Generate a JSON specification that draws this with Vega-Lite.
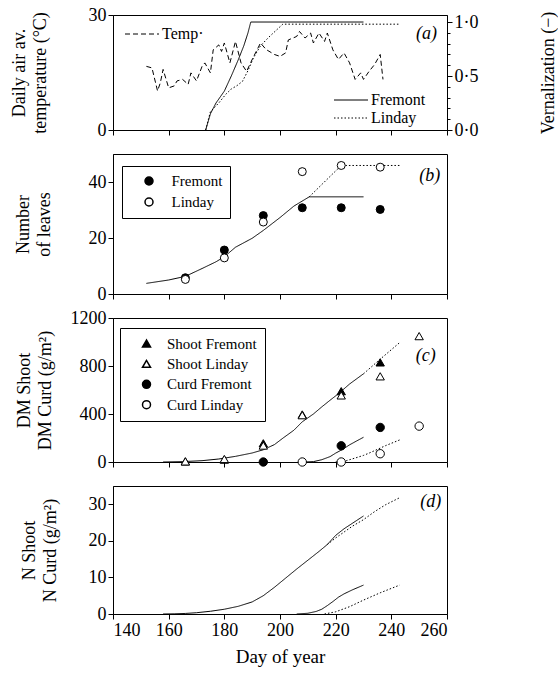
{
  "$schema": "https://vega.github.io/schema/vega-lite/v6.json",
  "background": "white",
  "padding": {"left": 9, "top": 5, "right": 0, "bottom": 0},
  "spacing": 24,
  "bounds": "flush",
  "config": {
    "font": "Liberation Serif",
    "view": {"stroke": "black", "strokeWidth": 1},
    "axis": {"grid": false, "labelFont": "Liberation Serif", "labelFontSize": 18, "titleFont": "Liberation Serif", "titleFontSize": 18, "titleFontWeight": "normal", "labelColor": "black", "titleColor": "black", "domainColor": "black", "tickColor": "black", "tickSize": 5, "labelPadding": 2, "titleLineHeight": 21},
    "legend": {"labelFont": "Liberation Serif", "labelColor": "black"}
  },
  "datasets": {
    "temp": [
      {"day": 152, "temp": 16.6}, {"day": 154, "temp": 16.2}, {"day": 156, "temp": 10.2}, {"day": 157, "temp": 12.3},
      {"day": 158, "temp": 15.8}, {"day": 160, "temp": 11.0}, {"day": 162, "temp": 11.5}, {"day": 163, "temp": 12.8},
      {"day": 165, "temp": 13.2}, {"day": 167, "temp": 11.9}, {"day": 168, "temp": 14.9}, {"day": 170, "temp": 12.8},
      {"day": 172, "temp": 16.6}, {"day": 173, "temp": 17.5}, {"day": 175, "temp": 14.9}, {"day": 176, "temp": 20.9},
      {"day": 178, "temp": 22.2}, {"day": 179, "temp": 20.5}, {"day": 180, "temp": 22.7}, {"day": 182, "temp": 17.5},
      {"day": 184, "temp": 23.1}, {"day": 186, "temp": 17.5}, {"day": 188, "temp": 15.3}, {"day": 190, "temp": 18.4},
      {"day": 193, "temp": 22.7}, {"day": 195, "temp": 21.0}, {"day": 198, "temp": 19.7}, {"day": 200, "temp": 19.2},
      {"day": 202, "temp": 20.1}, {"day": 203, "temp": 23.5}, {"day": 206, "temp": 24.4}, {"day": 207, "temp": 25.7},
      {"day": 209, "temp": 24.0}, {"day": 211, "temp": 25.3}, {"day": 212, "temp": 22.7}, {"day": 214, "temp": 25.3},
      {"day": 216, "temp": 23.1}, {"day": 217, "temp": 25.3}, {"day": 219, "temp": 20.9}, {"day": 221, "temp": 18.4},
      {"day": 223, "temp": 20.1}, {"day": 225, "temp": 17.5}, {"day": 227, "temp": 13.2}, {"day": 229, "temp": 14.9},
      {"day": 230, "temp": 13.2}, {"day": 232, "temp": 15.3}, {"day": 234, "temp": 17.1}, {"day": 236, "temp": 19.7},
      {"day": 237, "temp": 13.2}
    ],
    "vern": [
      {"day": 173.3, "vern": 0, "variety": "Fremont"}, {"day": 175, "vern": 0.15, "variety": "Fremont"},
      {"day": 177, "vern": 0.25, "variety": "Fremont"}, {"day": 180, "vern": 0.36, "variety": "Fremont"},
      {"day": 182.5, "vern": 0.5, "variety": "Fremont"}, {"day": 185, "vern": 0.65, "variety": "Fremont"},
      {"day": 187, "vern": 0.78, "variety": "Fremont"}, {"day": 188.5, "vern": 0.9, "variety": "Fremont"},
      {"day": 189.5, "vern": 1.0, "variety": "Fremont"}, {"day": 230, "vern": 1.0, "variety": "Fremont"},
      {"day": 173.3, "vern": 0, "variety": "Linday"}, {"day": 175, "vern": 0.17, "variety": "Linday"},
      {"day": 178, "vern": 0.25, "variety": "Linday"}, {"day": 180.5, "vern": 0.33, "variety": "Linday"},
      {"day": 182.5, "vern": 0.38, "variety": "Linday"}, {"day": 184.5, "vern": 0.41, "variety": "Linday"},
      {"day": 186.5, "vern": 0.45, "variety": "Linday"}, {"day": 188.5, "vern": 0.55, "variety": "Linday"},
      {"day": 190.5, "vern": 0.67, "variety": "Linday"}, {"day": 193, "vern": 0.78, "variety": "Linday"},
      {"day": 196, "vern": 0.86, "variety": "Linday"}, {"day": 198.5, "vern": 0.92, "variety": "Linday"},
      {"day": 201, "vern": 0.98, "variety": "Linday"}, {"day": 242.6, "vern": 0.98, "variety": "Linday"}
    ],
    "leaves_obs": [
      {"day": 166, "leaves": 5.8, "cv": "Fremont"}, {"day": 180, "leaves": 15.7, "cv": "Fremont"},
      {"day": 194, "leaves": 28.0, "cv": "Fremont"}, {"day": 208, "leaves": 30.8, "cv": "Fremont"},
      {"day": 222, "leaves": 30.8, "cv": "Fremont"}, {"day": 236, "leaves": 30.2, "cv": "Fremont"},
      {"day": 166, "leaves": 5.2, "cv": "Linday"}, {"day": 180, "leaves": 12.9, "cv": "Linday"},
      {"day": 194, "leaves": 25.7, "cv": "Linday"}, {"day": 208, "leaves": 43.7, "cv": "Linday"},
      {"day": 222, "leaves": 45.9, "cv": "Linday"}, {"day": 236, "leaves": 45.3, "cv": "Linday"}
    ],
    "leaves_model": [
      {"day": 152, "leaves": 3.8, "cultivar": "Fremont"}, {"day": 160, "leaves": 5.0, "cultivar": "Fremont"},
      {"day": 166, "leaves": 6.3, "cultivar": "Fremont"}, {"day": 172, "leaves": 9.1, "cultivar": "Fremont"},
      {"day": 177, "leaves": 11.5, "cultivar": "Fremont"}, {"day": 180, "leaves": 13.3, "cultivar": "Fremont"},
      {"day": 184, "leaves": 16.7, "cultivar": "Fremont"}, {"day": 190, "leaves": 19.9, "cultivar": "Fremont"},
      {"day": 194, "leaves": 22.7, "cultivar": "Fremont"}, {"day": 200, "leaves": 27.3, "cultivar": "Fremont"},
      {"day": 205, "leaves": 31.4, "cultivar": "Fremont"}, {"day": 210.5, "leaves": 34.7, "cultivar": "Fremont"},
      {"day": 230, "leaves": 34.7, "cultivar": "Fremont"},
      {"day": 210.5, "leaves": 34.7, "cultivar": "Linday"}, {"day": 222, "leaves": 45.9, "cultivar": "Linday"},
      {"day": 243, "leaves": 45.9, "cultivar": "Linday"}
    ],
    "dm_obs": [
      {"day": 166, "dm": 5, "series": "Shoot Fremont"}, {"day": 180, "dm": 20, "series": "Shoot Fremont"},
      {"day": 194, "dm": 156, "series": "Shoot Fremont"}, {"day": 208, "dm": 396, "series": "Shoot Fremont"},
      {"day": 222, "dm": 590, "series": "Shoot Fremont"}, {"day": 236, "dm": 830, "series": "Shoot Fremont"},
      {"day": 166, "dm": 5, "series": "Shoot Linday"}, {"day": 180, "dm": 25, "series": "Shoot Linday"},
      {"day": 194, "dm": 137, "series": "Shoot Linday"}, {"day": 208, "dm": 390, "series": "Shoot Linday"},
      {"day": 222, "dm": 555, "series": "Shoot Linday"}, {"day": 236, "dm": 714, "series": "Shoot Linday"},
      {"day": 250, "dm": 1049, "series": "Shoot Linday"},
      {"day": 194, "dm": 0, "series": "Curd Fremont"}, {"day": 222, "dm": 135, "series": "Curd Fremont"},
      {"day": 236, "dm": 288, "series": "Curd Fremont"},
      {"day": 208, "dm": 0, "series": "Curd Linday"}, {"day": 222, "dm": 0, "series": "Curd Linday"},
      {"day": 236, "dm": 69, "series": "Curd Linday"}, {"day": 250, "dm": 299, "series": "Curd Linday"}
    ],
    "dm_model": [
      {"day": 158, "dm": 0, "series": "Shoot Fremont", "cultivar": "Fremont"},
      {"day": 165, "dm": 3, "series": "Shoot Fremont", "cultivar": "Fremont"},
      {"day": 172, "dm": 11, "series": "Shoot Fremont", "cultivar": "Fremont"},
      {"day": 178, "dm": 25, "series": "Shoot Fremont", "cultivar": "Fremont"},
      {"day": 184, "dm": 47, "series": "Shoot Fremont", "cultivar": "Fremont"},
      {"day": 190, "dm": 75, "series": "Shoot Fremont", "cultivar": "Fremont"},
      {"day": 194, "dm": 102, "series": "Shoot Fremont", "cultivar": "Fremont"},
      {"day": 198, "dm": 145, "series": "Shoot Fremont", "cultivar": "Fremont"},
      {"day": 201, "dm": 198, "series": "Shoot Fremont", "cultivar": "Fremont"},
      {"day": 205, "dm": 265, "series": "Shoot Fremont", "cultivar": "Fremont"},
      {"day": 208, "dm": 335, "series": "Shoot Fremont", "cultivar": "Fremont"},
      {"day": 212, "dm": 400, "series": "Shoot Fremont", "cultivar": "Fremont"},
      {"day": 215, "dm": 459, "series": "Shoot Fremont", "cultivar": "Fremont"},
      {"day": 218, "dm": 515, "series": "Shoot Fremont", "cultivar": "Fremont"},
      {"day": 221, "dm": 569, "series": "Shoot Fremont", "cultivar": "Fremont"},
      {"day": 225, "dm": 650, "series": "Shoot Fremont", "cultivar": "Fremont"},
      {"day": 230, "dm": 735, "series": "Shoot Fremont", "cultivar": "Fremont"},
      {"day": 230, "dm": 735, "series": "Shoot Linday", "cultivar": "Linday"},
      {"day": 236, "dm": 857, "series": "Shoot Linday", "cultivar": "Linday"},
      {"day": 243, "dm": 995, "series": "Shoot Linday", "cultivar": "Linday"},
      {"day": 209, "dm": 0, "series": "Curd Fremont", "cultivar": "Fremont"},
      {"day": 212, "dm": 3, "series": "Curd Fremont", "cultivar": "Fremont"},
      {"day": 215, "dm": 19, "series": "Curd Fremont", "cultivar": "Fremont"},
      {"day": 218, "dm": 45, "series": "Curd Fremont", "cultivar": "Fremont"},
      {"day": 220, "dm": 74, "series": "Curd Fremont", "cultivar": "Fremont"},
      {"day": 222.5, "dm": 105, "series": "Curd Fremont", "cultivar": "Fremont"},
      {"day": 225, "dm": 143, "series": "Curd Fremont", "cultivar": "Fremont"},
      {"day": 227.5, "dm": 175, "series": "Curd Fremont", "cultivar": "Fremont"},
      {"day": 230, "dm": 206, "series": "Curd Fremont", "cultivar": "Fremont"},
      {"day": 220, "dm": 0, "series": "Curd Linday", "cultivar": "Linday"},
      {"day": 222, "dm": 1, "series": "Curd Linday", "cultivar": "Linday"},
      {"day": 224, "dm": 12, "series": "Curd Linday", "cultivar": "Linday"},
      {"day": 227, "dm": 33, "series": "Curd Linday", "cultivar": "Linday"},
      {"day": 230, "dm": 55, "series": "Curd Linday", "cultivar": "Linday"},
      {"day": 232, "dm": 74, "series": "Curd Linday", "cultivar": "Linday"},
      {"day": 235, "dm": 105, "series": "Curd Linday", "cultivar": "Linday"},
      {"day": 238, "dm": 137, "series": "Curd Linday", "cultivar": "Linday"},
      {"day": 243, "dm": 184, "series": "Curd Linday", "cultivar": "Linday"}
    ],
    "n_model": [
      {"day": 158, "n": 0, "series": "Shoot Fremont", "cultivar": "Fremont"},
      {"day": 162, "n": 0.05, "series": "Shoot Fremont", "cultivar": "Fremont"},
      {"day": 166, "n": 0.15, "series": "Shoot Fremont", "cultivar": "Fremont"},
      {"day": 170, "n": 0.35, "series": "Shoot Fremont", "cultivar": "Fremont"},
      {"day": 175, "n": 0.75, "series": "Shoot Fremont", "cultivar": "Fremont"},
      {"day": 180, "n": 1.3, "series": "Shoot Fremont", "cultivar": "Fremont"},
      {"day": 185, "n": 2.1, "series": "Shoot Fremont", "cultivar": "Fremont"},
      {"day": 190, "n": 3.3, "series": "Shoot Fremont", "cultivar": "Fremont"},
      {"day": 194, "n": 5.0, "series": "Shoot Fremont", "cultivar": "Fremont"},
      {"day": 198, "n": 7.3, "series": "Shoot Fremont", "cultivar": "Fremont"},
      {"day": 202, "n": 9.8, "series": "Shoot Fremont", "cultivar": "Fremont"},
      {"day": 206, "n": 12.3, "series": "Shoot Fremont", "cultivar": "Fremont"},
      {"day": 210, "n": 14.7, "series": "Shoot Fremont", "cultivar": "Fremont"},
      {"day": 214, "n": 17.1, "series": "Shoot Fremont", "cultivar": "Fremont"},
      {"day": 217, "n": 19.0, "series": "Shoot Fremont", "cultivar": "Fremont"},
      {"day": 220, "n": 21.5, "series": "Shoot Fremont", "cultivar": "Fremont"},
      {"day": 223, "n": 23.3, "series": "Shoot Fremont", "cultivar": "Fremont"},
      {"day": 226, "n": 24.8, "series": "Shoot Fremont", "cultivar": "Fremont"},
      {"day": 230, "n": 26.8, "series": "Shoot Fremont", "cultivar": "Fremont"},
      {"day": 217, "n": 19.0, "series": "Shoot Linday", "cultivar": "Linday"},
      {"day": 220, "n": 20.8, "series": "Shoot Linday", "cultivar": "Linday"},
      {"day": 223, "n": 22.4, "series": "Shoot Linday", "cultivar": "Linday"},
      {"day": 226, "n": 24.0, "series": "Shoot Linday", "cultivar": "Linday"},
      {"day": 230, "n": 25.8, "series": "Shoot Linday", "cultivar": "Linday"},
      {"day": 234, "n": 28.0, "series": "Shoot Linday", "cultivar": "Linday"},
      {"day": 238, "n": 29.9, "series": "Shoot Linday", "cultivar": "Linday"},
      {"day": 243, "n": 31.8, "series": "Shoot Linday", "cultivar": "Linday"},
      {"day": 206, "n": 0, "series": "Curd Fremont", "cultivar": "Fremont"},
      {"day": 210, "n": 0.2, "series": "Curd Fremont", "cultivar": "Fremont"},
      {"day": 213, "n": 0.7, "series": "Curd Fremont", "cultivar": "Fremont"},
      {"day": 215, "n": 1.3, "series": "Curd Fremont", "cultivar": "Fremont"},
      {"day": 217, "n": 2.3, "series": "Curd Fremont", "cultivar": "Fremont"},
      {"day": 219, "n": 3.4, "series": "Curd Fremont", "cultivar": "Fremont"},
      {"day": 221, "n": 4.6, "series": "Curd Fremont", "cultivar": "Fremont"},
      {"day": 223, "n": 5.5, "series": "Curd Fremont", "cultivar": "Fremont"},
      {"day": 226, "n": 6.6, "series": "Curd Fremont", "cultivar": "Fremont"},
      {"day": 230, "n": 7.9, "series": "Curd Fremont", "cultivar": "Fremont"},
      {"day": 216, "n": 0, "series": "Curd Linday", "cultivar": "Linday"},
      {"day": 220, "n": 0.6, "series": "Curd Linday", "cultivar": "Linday"},
      {"day": 225, "n": 2.0, "series": "Curd Linday", "cultivar": "Linday"},
      {"day": 230, "n": 3.8, "series": "Curd Linday", "cultivar": "Linday"},
      {"day": 236, "n": 5.8, "series": "Curd Linday", "cultivar": "Linday"},
      {"day": 243, "n": 7.9, "series": "Curd Linday", "cultivar": "Linday"}
    ],
    "tag_a": [{"day": 252.6, "temp": 25, "lab": "(a)"}],
    "tag_b": [{"day": 253.8, "leaves": 42.3, "lab": "(b)"}],
    "tag_c": [{"day": 252.4, "dm": 881, "lab": "(c)"}],
    "tag_d": [{"day": 254.2, "n": 30.75, "lab": "(d)"}]
  },
  "resolve": {"scale": {"y": "independent", "fill": "independent", "shape": "independent", "strokeDash": "independent"}, "legend": {"fill": "independent", "shape": "independent", "strokeDash": "independent"}},
  "vconcat": [
    {
      "width": 334, "height": 115,
      "layer": [
        {
          "layer": [
            {
              "data": {"name": "temp"},
              "mark": {"type": "line", "color": "black", "strokeWidth": 1},
              "encoding": {
                "x": {"field": "day", "type": "quantitative", "scale": {"domain": [140, 260]}, "axis": {"labelOpacity": 0, "title": null, "values": [140, 160, 180, 200, 220, 240, 260]}},
                "y": {"field": "temp", "type": "quantitative", "scale": {"domain": [0, 30]}, "axis": {"title": ["Daily air av.", "temperature (°C)"], "titleX": -85, "values": [0, 5, 10, 15, 20, 25, 30], "labelExpr": "datum.value % 10 === 0 ? datum.label : ''", "tickSize": {"condition": {"test": "datum.value % 10 === 0", "value": 5}, "value": 3}}},
                "strokeDash": {"datum": "Temp·", "scale": {"range": [[5, 3]]}, "legend": {"orient": "none", "legendX": 9, "legendY": 11, "title": null, "padding": 0, "symbolType": "M-3.4,0H3.4", "symbolSize": 100, "symbolOffset": 12, "symbolStrokeWidth": 1, "symbolStrokeColor": "black", "labelFontSize": 16, "labelOffset": 12}}
              }
            },
            {
              "data": {"name": "tag_a"},
              "mark": {"type": "text", "fontStyle": "italic", "fontSize": 18, "font": "Liberation Serif", "color": "black"},
              "encoding": {
                "x": {"field": "day", "type": "quantitative"},
                "y": {"field": "temp", "type": "quantitative"},
                "text": {"field": "lab"}
              }
            }
          ]
        },
        {
          "data": {"name": "vern"},
          "mark": {"type": "line", "color": "black", "strokeWidth": 1},
          "encoding": {
            "x": {"field": "day", "type": "quantitative", "scale": {"domain": [140, 260]}},
            "y": {"field": "vern", "type": "quantitative", "scale": {"domain": [0, 1.065]}, "axis": {"orient": "right", "title": "Vernalization (−)", "titleAngle": 270, "titleBaseline": "middle", "titleX": 101, "values": [0, 0.1, 0.2, 0.3, 0.4, 0.5, 0.6, 0.7, 0.8, 0.9, 1.0], "labelExpr": "abs(datum.value * 2 - round(datum.value * 2)) < 0.01 ? replace(format(datum.value, '.1f'), '.', '·') : ''", "tickSize": {"condition": {"test": "abs(datum.value * 2 - round(datum.value * 2)) < 0.01", "value": 5}, "value": 3}}},
            "strokeDash": {"field": "variety", "type": "nominal", "scale": {"range": [[1, 0], [1.5, 2]]}, "legend": {"orient": "none", "legendX": 218, "legendY": 77, "title": null, "padding": 0, "symbolType": "M-3.4,0H3.4", "symbolSize": 100, "symbolOffset": 12, "symbolStrokeWidth": 1, "symbolStrokeColor": "black", "labelFontSize": 16, "labelOffset": 12, "rowPadding": 2}}
          }
        }
      ],
      "resolve": {"scale": {"y": "independent", "strokeDash": "independent"}}
    },
    {
      "width": 334, "height": 140,
      "layer": [
        {
          "data": {"name": "leaves_model"},
          "mark": {"type": "line", "color": "black", "strokeWidth": 1},
          "encoding": {
            "x": {"field": "day", "type": "quantitative", "scale": {"domain": [140, 260]}, "axis": {"labelOpacity": 0, "title": null, "values": [140, 160, 180, 200, 220, 240, 260]}},
            "y": {"field": "leaves", "type": "quantitative", "scale": {"domain": [0, 50]}, "axis": {"title": ["Number", "of leaves"], "titleX": -81, "values": [0, 5, 10, 15, 20, 25, 30, 35, 40, 45, 50], "labelExpr": "datum.value % 10 === 0 ? datum.label : ''", "tickSize": {"condition": {"test": "datum.value % 10 === 0", "value": 5}, "value": 3}}},
            "strokeDash": {"field": "cultivar", "type": "nominal", "scale": {"range": [[1, 0], [1.5, 2]]}, "legend": null}
          }
        },
        {
          "data": {"name": "leaves_obs"},
          "mark": {"type": "point", "size": 64, "filled": true, "stroke": "black", "strokeWidth": 1, "opacity": 1},
          "encoding": {
            "x": {"field": "day", "type": "quantitative", "scale": {"domain": [140, 260]}},
            "y": {"field": "leaves", "type": "quantitative"},
            "shape": {"field": "cv", "type": "nominal", "scale": {"domain": ["Fremont", "Linday"], "range": ["circle", "circle"]}, "legend": {"orient": "none", "legendX": 9, "legendY": 12, "title": null, "strokeColor": "black", "fillColor": "white", "padding": 7.5, "symbolOffset": 12, "labelOffset": 15, "rowPadding": 5, "labelFontSize": 15, "symbolSize": 64, "encode": {"symbols": {"update": {"stroke": {"value": "black"}, "strokeWidth": {"value": 1}}}}}},
            "fill": {"field": "cv", "type": "nominal", "scale": {"domain": ["Fremont", "Linday"], "range": ["black", "white"]}, "legend": {"orient": "none", "legendX": 9, "legendY": 12, "title": null, "strokeColor": "black", "fillColor": "white", "padding": 7.5, "symbolOffset": 12, "labelOffset": 15, "rowPadding": 5, "labelFontSize": 15, "symbolSize": 64, "encode": {"symbols": {"update": {"stroke": {"value": "black"}, "strokeWidth": {"value": 1}}}}}}
          }
        },
        {
          "data": {"name": "tag_b"},
          "mark": {"type": "text", "fontStyle": "italic", "fontSize": 18, "font": "Liberation Serif", "color": "black"},
          "encoding": {
            "x": {"field": "day", "type": "quantitative"},
            "y": {"field": "leaves", "type": "quantitative"},
            "text": {"field": "lab"}
          }
        }
      ]
    },
    {
      "width": 334, "height": 144,
      "layer": [
        {
          "data": {"name": "dm_model"},
          "mark": {"type": "line", "color": "black", "strokeWidth": 1},
          "encoding": {
            "x": {"field": "day", "type": "quantitative", "scale": {"domain": [140, 260]}, "axis": {"labelOpacity": 0, "title": null, "values": [140, 160, 180, 200, 220, 240, 260]}},
            "y": {"field": "dm", "type": "quantitative", "scale": {"domain": [0, 1200]}, "axis": {"title": ["DM Shoot", "DM Curd (g/m²)"], "titleX": -80, "values": [0, 100, 200, 300, 400, 500, 600, 700, 800, 900, 1000, 1100, 1200], "format": "d", "labelExpr": "datum.value % 200 === 0 ? datum.label : ''", "tickSize": {"condition": {"test": "datum.value % 200 === 0", "value": 5}, "value": 3}}},
            "detail": {"field": "series"},
            "strokeDash": {"field": "cultivar", "type": "nominal", "scale": {"range": [[1, 0], [1.5, 2]]}, "legend": null}
          }
        },
        {
          "data": {"name": "dm_obs"},
          "mark": {"type": "point", "size": 70, "filled": true, "stroke": "black", "strokeWidth": 1, "opacity": 1},
          "encoding": {
            "x": {"field": "day", "type": "quantitative", "scale": {"domain": [140, 260]}},
            "y": {"field": "dm", "type": "quantitative"},
            "shape": {"field": "series", "type": "nominal", "scale": {"domain": ["Shoot Fremont", "Shoot Linday", "Curd Fremont", "Curd Linday"], "range": ["triangle-up", "triangle-up", "circle", "circle"]}, "legend": {"orient": "none", "legendX": 7, "legendY": 10, "title": null, "strokeColor": "black", "fillColor": "white", "padding": 8, "symbolOffset": 11, "labelOffset": 13, "rowPadding": 4.4, "labelFontSize": 15, "symbolSize": 64, "encode": {"symbols": {"update": {"stroke": {"value": "black"}, "strokeWidth": {"value": 1}}}}}},
            "fill": {"field": "series", "type": "nominal", "scale": {"domain": ["Shoot Fremont", "Shoot Linday", "Curd Fremont", "Curd Linday"], "range": ["black", "white", "black", "white"]}, "legend": {"orient": "none", "legendX": 7, "legendY": 10, "title": null, "strokeColor": "black", "fillColor": "white", "padding": 8, "symbolOffset": 11, "labelOffset": 13, "rowPadding": 4.4, "labelFontSize": 15, "symbolSize": 64, "encode": {"symbols": {"update": {"stroke": {"value": "black"}, "strokeWidth": {"value": 1}}}}}}
          }
        },
        {
          "data": {"name": "tag_c"},
          "mark": {"type": "text", "fontStyle": "italic", "fontSize": 18, "font": "Liberation Serif", "color": "black"},
          "encoding": {
            "x": {"field": "day", "type": "quantitative"},
            "y": {"field": "dm", "type": "quantitative"},
            "text": {"field": "lab"}
          }
        }
      ]
    },
    {
      "width": 334, "height": 128,
      "layer": [
        {
          "data": {"name": "n_model"},
          "mark": {"type": "line", "color": "black", "strokeWidth": 1},
          "encoding": {
            "x": {"field": "day", "type": "quantitative", "scale": {"domain": [140, 260]}, "axis": {"title": "Day of year", "titleFontSize": 19, "titlePadding": 8, "values": [140, 160, 180, 200, 220, 240, 260]}},
            "y": {"field": "n", "type": "quantitative", "scale": {"domain": [0, 35]}, "axis": {"title": ["N Shoot", "N Curd (g/m²)"], "titleX": -75, "values": [0, 5, 10, 15, 20, 25, 30, 35], "labelExpr": "datum.value % 10 === 0 ? datum.label : ''", "tickSize": {"condition": {"test": "datum.value % 10 === 0", "value": 5}, "value": 3}}},
            "detail": {"field": "series"},
            "strokeDash": {"field": "cultivar", "type": "nominal", "scale": {"range": [[1, 0], [1.5, 2]]}, "legend": null}
          }
        },
        {
          "data": {"name": "tag_d"},
          "mark": {"type": "text", "fontStyle": "italic", "fontSize": 18, "font": "Liberation Serif", "color": "black"},
          "encoding": {
            "x": {"field": "day", "type": "quantitative"},
            "y": {"field": "n", "type": "quantitative"},
            "text": {"field": "lab"}
          }
        }
      ]
    }
  ]
}
